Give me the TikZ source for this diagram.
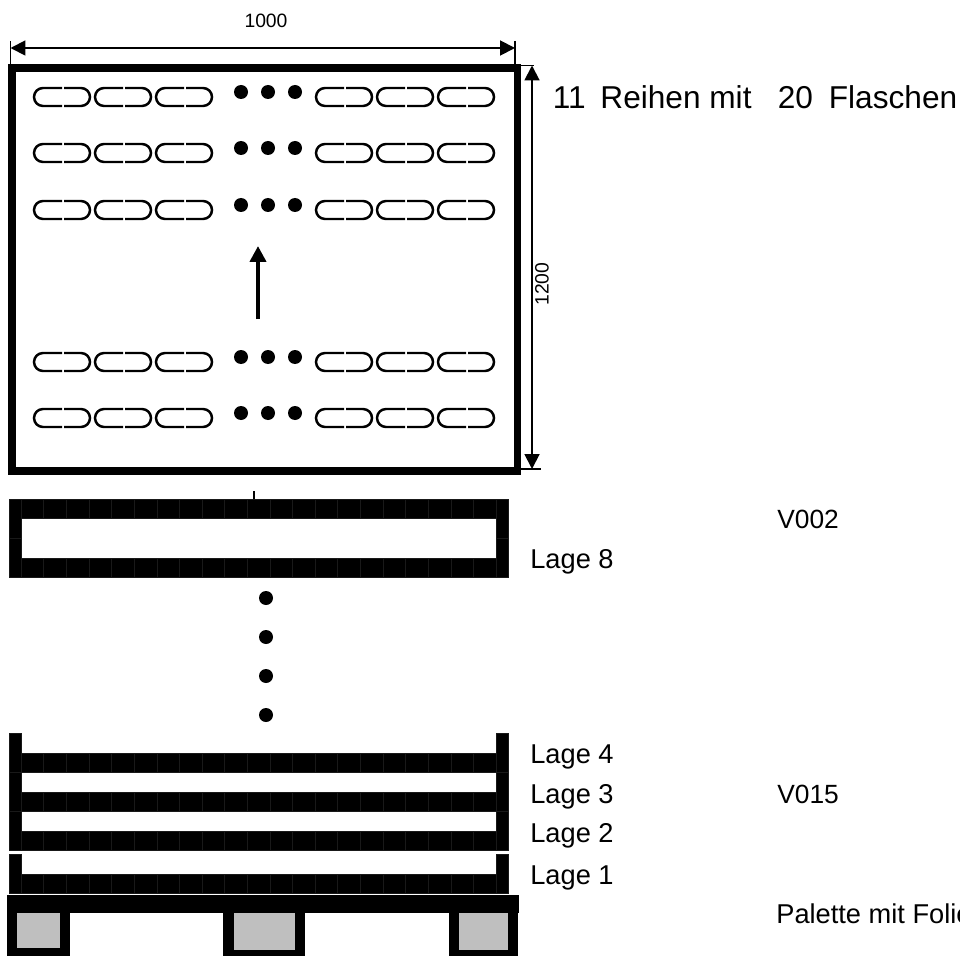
\documentclass[tikz,border=0pt]{standalone}
\usepackage{fontspec}
\setmainfont{Liberation Sans}
\usetikzlibrary{arrows.meta}

\tikzset{
  cadre/.style={line width=4.5pt},
  cote/.style={line width=1.1pt,<->,>={Triangle[length=8.5pt,width=8.5pt]}},
  repere/.style={line width=0.6pt},
  flasche/.style={line width=1.4pt},
  cellule/.style={fill=black,draw=black!90,line width=0.25pt},
  fuss/.style={fill=black!25},
  grand/.style={font=\fontsize{18}{20}\selectfont,anchor=base west,inner sep=0pt},
  moyen/.style={font=\fontsize{15.5}{18}\selectfont,anchor=base west,inner sep=0pt},
  version/.style={font=\fontsize{15}{18}\selectfont,anchor=base west,inner sep=0pt},
  petit/.style={font=\fontsize{11}{13}\selectfont,inner sep=0pt}
}

% une bouteille vue de dessus
\newcommand{\flaschezeichnen}[2]{
  \draw[flasche] (#1+29,#2-9) -- (#1+10,#2-9) arc (270:90:9) -- (#1+29,#2+9);
  \draw[flasche] (#1+31,#2-9) -- (#1+48,#2-9) arc (-90:90:9) -- (#1+31,#2+9);
}
% une rangee complete
\newcommand{\reihe}[1]{
  \foreach \xb in {33,94,155,315,376,437} {\flaschezeichnen{\xb}{#1}}
  \foreach \xp in {241,268,295} {\fill (\xp,#1-5) circle (7);}
}
% barre d'une couche
\newcommand{\balken}[1]{
  \foreach \i in {0,...,20} {\draw[cellule] (21+\i*22.62,#1) rectangle (21+\i*22.62+22.62,#1+19.5);}
}
% montants gauche et droit
\newcommand{\pfosten}[1]{
  \draw[cellule] (9,#1) rectangle (21,#1+39);
  \draw[cellule] (496,#1) rectangle (508,#1+39);
}

\begin{document}
\begin{tikzpicture}[x=0.02cm,y=-0.02cm]

\clip (0,0) rectangle (960,956);
\fill[white] (0,0) rectangle (960,956);

% Vue de dessus
\draw[cadre] (12,68) rectangle (517.5,471);

\foreach \yr in {97,153,210,362,418} {\reihe{\yr}}

\coordinate (pfeilA) at (258,319);
\coordinate (pfeilB) at (258,246);
\draw[line width=2.8pt,-{Triangle[length=9pt,width=9pt]}] (pfeilA) -- (pfeilB);

% Cotes
\coordinate (breiteA) at (10.5,48);
\coordinate (breiteB) at (515,48);
\coordinate (hoeheA) at (532,65.5);
\coordinate (hoeheB) at (532,469);
\draw[repere] (10.5,41) -- (10.5,64);
\draw[repere] (515,41) -- (515,64);
\draw[repere] (521,65.5) -- (534,65.5);
\draw[repere] (521,469) -- (541,469);
\draw[cote] (breiteA) -- (breiteB);
\draw[cote] (hoeheA) -- (hoeheB);

\node[petit] (breite) at (266,21) {1000};
\node[petit,rotate=90] (hoehe) at (542,284) {1200};

\node[grand] (reihen) at (552.5,109) {11\hspace{3.4pt} Reihen mit\ \ \ 20\hspace{4pt} Flaschen};

% Petit trait
\draw[repere] (254,491) -- (254,499);

% Lage 8
\balken{499}
\balken{558}
\pfosten{499.5}
\pfosten{538.5}

% Points verticaux
\foreach \yp in {598,637,676,715} {\fill (266,\yp) circle (7);}

% Lagen 4 a 1
\foreach \yl in {753,792,831,874} {
  \balken{\yl}
  \pfosten{\yl-19.5}
}

% Palette
\fill (7,895) rectangle (519,913);
\fill (7,913) rectangle (70,956);
\fill (223,913) rectangle (305,956);
\fill (449,913) rectangle (518,956);
\fill[fuss] (17,913) rectangle (60,948);
\fill[fuss] (234,913) rectangle (295,950);
\fill[fuss] (459,913) rectangle (508,950);

% Textes
\node[moyen] (lageacht) at (530,568) {Lage 8};
\node[moyen] (lagevier) at (530,763) {Lage 4};
\node[moyen] (lagedrei) at (530,803) {Lage 3};
\node[moyen] (lagezwei) at (530,842) {Lage 2};
\node[moyen] (lageeins) at (530,884) {Lage 1};
\node[version] (vzwei) at (777,528) {V002};
\node[version] (vfuenf) at (777,803) {V015};
\node[moyen] (palette) at (776,923) {Palette mit Folie};

\end{tikzpicture}
\end{document}
